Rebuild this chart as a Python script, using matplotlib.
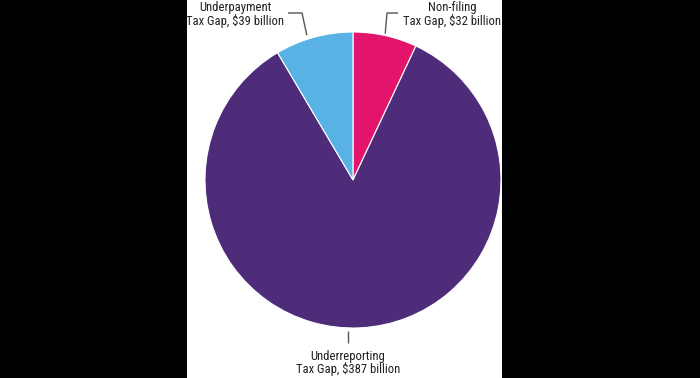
import numpy as np
import matplotlib.pyplot as plt
from matplotlib.font_manager import FontProperties

# --- data ---
labels = ['Non-filing', 'Underreporting', 'Underpayment']
values = [32, 387, 39]
colors = ['#E2146B', '#4E2C7A', '#58B2E3']

fp = FontProperties(family=['Roboto Condensed', 'Liberation Sans'], size=9.1)

W, H = 700, 378
fig = plt.figure(figsize=(7, 3.78), dpi=100, facecolor='black')

# white panel between the black side bars
bg = fig.add_axes([187 / W, 0, (502 - 187) / W, 1])
bg.set_facecolor('white')
bg.set_xticks([])
bg.set_yticks([])
for s in bg.spines.values():
    s.set_visible(False)

ax = fig.add_axes([0, 0, 1, 1])
ax.patch.set_visible(False)

cx, cy, r = 353, H - 180, 148
wedges, _ = ax.pie(values, colors=colors, startangle=90, counterclock=False,
                   center=(cx, cy), radius=r,
                   wedgeprops=dict(edgecolor='white', linewidth=0.8))
ax.set_xlim(0, W)
ax.set_ylim(0, H)
ax.set_aspect('equal')
ax.axis('off')


def px(x, y):
    return x, H - y


line_kw = dict(color='#555555', lw=1.0, solid_capstyle='butt')
txt = dict(fontproperties=fp, color='#231F20', ha='center', va='baseline')

# leader lines start on the wedge edge at its mid angle
mids = {}
for w, lab in zip(wedges, labels):
    th = np.deg2rad((w.theta1 + w.theta2) / 2)
    mids[lab] = (cx + r * np.cos(th), cy + r * np.sin(th))

# Non-filing
x0, y0 = mids['Non-filing']
ax.plot([x0, 387, 398], [y0 + 2, H - 13, H - 13], **line_kw)
ax.text(*px(452, 11), labels[0], **txt)
ax.text(*px(452, 24.5), 'Tax Gap, $%d billion' % values[0], **txt)

# Underpayment
x0, y0 = mids['Underpayment']
ax.plot([x0 - 7, 302, 288], [y0 + 2, H - 13, H - 13], **line_kw)
ax.text(*px(235, 11), labels[2], **txt)
ax.text(*px(235, 24.5), 'Tax Gap, $%d billion' % values[2], **txt)

# Underreporting
ax.plot([348, 348], [H - 331, H - 343], **line_kw)
ax.text(*px(348, 360), labels[1], **txt)
ax.text(*px(348, 373.5), 'Tax Gap, $%d billion' % values[1], **txt)

fig.savefig('out.png', dpi=100, facecolor='black')
